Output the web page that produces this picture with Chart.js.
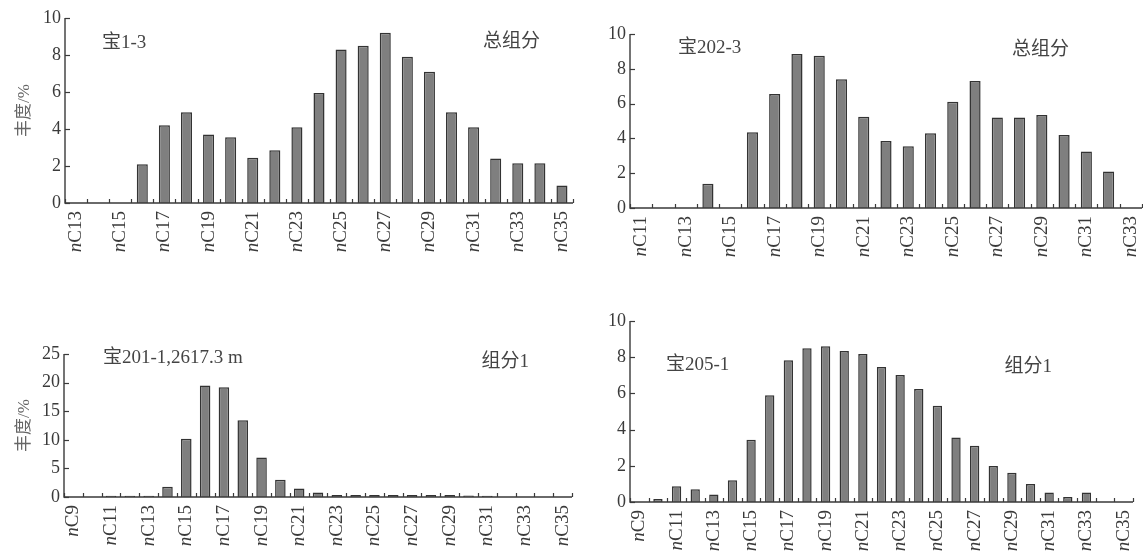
<!DOCTYPE html>
<html>
<head>
<meta charset="utf-8">
<script src="https://cdn.jsdelivr.net/npm/chart.js@4.4.1/dist/chart.umd.min.js"></script>
<style>
  html, body { margin: 0; padding: 0; background: #fff; width: 1143px; height: 556px; overflow: hidden; }
  canvas { position: absolute; }
</style>
</head>
<body>
<canvas id="c1" width="580" height="290" style="left:0;top:0"></canvas>
<canvas id="c2" width="568" height="290" style="left:575px;top:0"></canvas>
<canvas id="c3" width="580" height="266" style="left:0;top:290px"></canvas>
<canvas id="c4" width="568" height="266" style="left:575px;top:290px"></canvas>
<script>
// n-alkane carbon numbers and relative abundance (%) for each sample
const labelsBao13 = ['nC13','nC14','nC15','nC16','nC17','nC18','nC19','nC20','nC21','nC22','nC23','nC24',
                     'nC25','nC26','nC27','nC28','nC29','nC30','nC31','nC32','nC33','nC34','nC35'];
const valuesBao13 = [0, 0, 0, 2.1, 4.2, 4.9, 3.7, 3.55, 2.45, 2.85, 4.1, 5.95,
                     8.3, 8.5, 9.2, 7.9, 7.1, 4.9, 4.1, 2.4, 2.15, 2.15, 0.95];

const labelsBao2023 = ['nC11','nC12','nC13','nC14','nC15','nC16','nC17','nC18','nC19','nC20','nC21','nC22',
                       'nC23','nC24','nC25','nC26','nC27','nC28','nC29','nC30','nC31','nC32','nC33'];
const valuesBao2023 = [0, 0, 0, 1.4, 0, 4.35, 6.55, 8.85, 8.75, 7.4, 5.25, 3.85,
                       3.55, 4.3, 6.1, 7.3, 5.2, 5.2, 5.35, 4.2, 3.25, 2.1, 0];

const labelsBao2011 = ['nC9','nC10','nC11','nC12','nC13','nC14','nC15','nC16','nC17','nC18','nC19','nC20','nC21','nC22',
                       'nC23','nC24','nC25','nC26','nC27','nC28','nC29','nC30','nC31','nC32','nC33','nC34','nC35'];
const valuesBao2011 = [0, 0, 0.2, 0.2, 0.2, 1.8, 10.2, 19.5, 19.2, 13.4, 6.9, 3.0, 1.5, 0.8,
                       0.35, 0.35, 0.35, 0.35, 0.35, 0.35, 0.35, 0.25, 0.2, 0, 0, 0, 0];

const labelsBao2051 = ['nC9','nC10','nC11','nC12','nC13','nC14','nC15','nC16','nC17','nC18','nC19','nC20','nC21','nC22',
                       'nC23','nC24','nC25','nC26','nC27','nC28','nC29','nC30','nC31','nC32','nC33','nC34','nC35'];
const valuesBao2051 = [0, 0.17, 0.87, 0.7, 0.42, 1.2, 3.44, 5.9, 7.83, 8.5, 8.6, 8.34, 8.18, 7.46,
                       7.02, 6.24, 5.32, 3.57, 3.11, 1.99, 1.62, 0.99, 0.53, 0.28, 0.53, 0, 0];

const SERIF = '"Liberation Serif", "Times New Roman", "Noto Sans CJK SC", serif';
const INK = '#3a3a3a';

// Axis lines, inward tick marks, rotated carbon-number labels and panel captions
const axisDecor = {
  id: 'axisDecor',
  afterDraw(chart, args, opts) {
    const ctx = chart.ctx;
    const xs = chart.scales.x, ys = chart.scales.y;
    const a = chart.chartArea;
    ctx.save();
    ctx.strokeStyle = INK;
    ctx.lineWidth = 1.4;
    ctx.beginPath();
    ctx.moveTo(a.left, a.top);
    ctx.lineTo(a.left, a.bottom);
    ctx.lineTo(a.right, a.bottom);
    ctx.stroke();

    ctx.lineWidth = 1.2;
    ys.ticks.forEach((t, i) => {
      const py = Math.round(ys.getPixelForTick(i)) + 0.5;
      ctx.beginPath();
      ctx.moveTo(a.left, py);
      ctx.lineTo(a.left + 5, py);
      ctx.stroke();
    });
    const n = chart.data.labels.length;
    for (let i = 0; i <= n; i++) {
      const px = Math.round(xs.getPixelForValue(i - 0.5)) + 0.5;
      ctx.beginPath();
      ctx.moveTo(px, a.bottom);
      ctx.lineTo(px, a.bottom - 4);
      ctx.stroke();
    }

    ctx.fillStyle = INK;
    const size = opts.labelSize;
    chart.data.labels.forEach((label, i) => {
      if (i % 2) return;
      const px = xs.getPixelForTick(i);
      const head = label.slice(0, 1), tail = label.slice(1);
      ctx.save();
      ctx.translate(px, a.bottom + opts.gap);
      ctx.rotate(-Math.PI / 2);
      ctx.textBaseline = 'middle';
      ctx.textAlign = 'left';
      ctx.font = 'italic ' + size + 'px ' + SERIF;
      const wh = ctx.measureText(head).width;
      ctx.font = size + 'px ' + SERIF;
      const wt = ctx.measureText(tail).width;
      ctx.font = 'italic ' + size + 'px ' + SERIF;
      ctx.fillText(head, -(wh + wt), 0);
      ctx.font = size + 'px ' + SERIF;
      ctx.fillText(tail, -wt, 0);
      ctx.restore();
    });

    ctx.fillStyle = '#444444';
    ctx.textBaseline = 'middle';
    ctx.font = opts.noteSize + 'px ' + SERIF;
    opts.notes.forEach(nt => {
      if (nt.fromRight) {
        ctx.textAlign = 'right';
        ctx.fillText(nt.text, a.right - nt.dx, a.top + nt.dy);
      } else {
        ctx.textAlign = 'left';
        ctx.fillText(nt.text, a.left + nt.dx, a.top + nt.dy);
      }
    });
    ctx.restore();
  }
};

function makePanel(id, labels, values, cfg) {
  const canvas = document.getElementById(id);
  return new Chart(canvas, {
    type: 'bar',
    data: {
      labels: labels,
      datasets: [{
        data: values,
        backgroundColor: '#7f7f7f',
        borderColor: '#333333',
        borderWidth: 1.5,
        borderSkipped: 'bottom',
        barPercentage: cfg.barPct,
        categoryPercentage: 1.0
      }]
    },
    options: {
      responsive: false,
      animation: false,
      devicePixelRatio: 1,
      layout: { padding: cfg.padding },
      plugins: {
        legend: { display: false },
        tooltip: { enabled: false },
        axisDecor: { gap: 8, labelSize: 19, noteSize: 19, notes: cfg.notes }
      },
      scales: {
        x: {
          type: 'category',
          offset: true,
          grid: { display: false, drawTicks: false },
          border: { display: false },
          ticks: { display: false },
          afterFit: s => { s.height = cfg.xHeight; }
        },
        y: {
          min: 0,
          max: cfg.yMax,
          grid: { display: false, drawTicks: false },
          border: { display: false },
          ticks: {
            stepSize: cfg.yStep,
            padding: 4,
            color: INK,
            font: { family: SERIF, size: 18 }
          },
          title: {
            display: cfg.yTitle,
            text: '丰度/%',
            color: '#666666',
            font: { family: SERIF, size: 17 },
            padding: { top: 14, bottom: 0 }
          },
          afterFit: s => { s.width = cfg.yWidth; }
        }
      }
    },
    plugins: [axisDecor]
  });
}

makePanel('c1', labelsBao13, valuesBao13, {
  yMax: 10, yStep: 2, yTitle: true, barPct: 0.5,
  yWidth: 65, xHeight: 87,
  padding: { left: 0, top: 18, right: 7, bottom: 0 },
  notes: [
    { text: '宝1-3', dx: 37, dy: 25 },
    { text: '总组分', dx: 33, dy: 24, fromRight: true }
  ]
});

makePanel('c2', labelsBao2023, valuesBao2023, {
  yMax: 10, yStep: 2, yTitle: false, barPct: 0.5,
  yWidth: 55, xHeight: 82,
  padding: { left: 0, top: 34, right: 1, bottom: 0 },
  notes: [
    { text: '宝202-3', dx: 48, dy: 14 },
    { text: '总组分', dx: 73, dy: 16, fromRight: true }
  ]
});

makePanel('c3', labelsBao2011, valuesBao2011, {
  yMax: 25, yStep: 5, yTitle: true, barPct: 0.56,
  yWidth: 64, xHeight: 59,
  padding: { left: 0, top: 64, right: 8, bottom: 0 },
  notes: [
    { text: '宝201-1,2617.3 m', dx: 39, dy: 4 },
    { text: '组分1', dx: 43, dy: 8, fromRight: true }
  ]
});

makePanel('c4', labelsBao2051, valuesBao2051, {
  yMax: 10, yStep: 2, yTitle: false, barPct: 0.5,
  yWidth: 55, xHeight: 54,
  padding: { left: 0, top: 31, right: 10, bottom: 0 },
  notes: [
    { text: '宝205-1', dx: 36, dy: 44 },
    { text: '组分1', dx: 81, dy: 46, fromRight: true }
  ]
});
</script>
</body>
</html>
